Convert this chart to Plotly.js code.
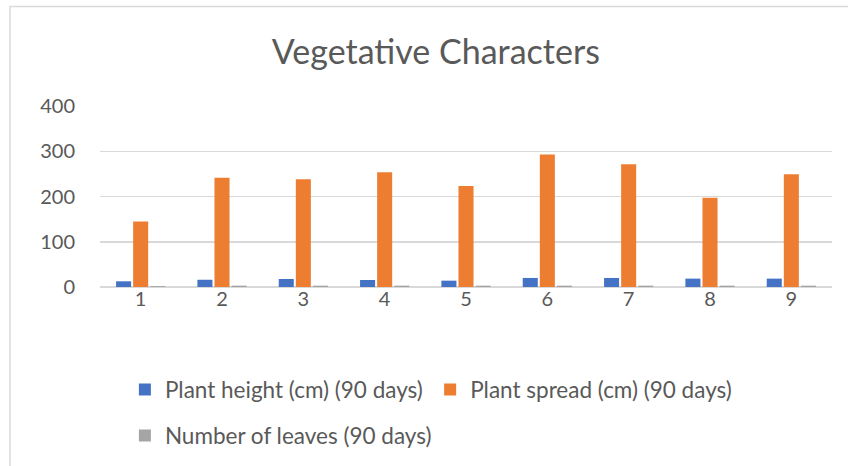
<!DOCTYPE html>
<html>
<head>
<meta charset="utf-8">
<script src="https://cdn.plot.ly/plotly-3.0.1.min.js"></script>
<style>html,body{margin:0;padding:0;background:#fff;}#chart{width:848px;height:466px;}</style>
</head>
<body>
<div id="chart"></div>
<script>
const categories = ['1','2','3','4','5','6','7','8','9'];
const plantHeight = [12.6, 16, 17.7, 15.5, 14, 20, 20, 18.5, 18.5];
const plantSpread = [145, 241.5, 238, 253.5, 223, 293, 271.5, 197.5, 249];
const numLeaves = [2, 3, 3, 3, 3, 3, 3, 3, 3];
const seriesNames = ['Plant height (cm) (90 days)', 'Plant spread (cm) (90 days)', 'Number of leaves (90 days)'];
const yTicks = [0, 100, 200, 300, 400];

const font = 'Lato, "Open Sans", sans-serif';
const txt = '#595959';

const traces = [
  {type:'bar', name:seriesNames[0], x:categories, y:plantHeight, marker:{color:'#4472C4'}, legend:'legend'},
  {type:'bar', name:seriesNames[1], x:categories, y:plantSpread, marker:{color:'#ED7D31'}, legend:'legend2'},
  {type:'bar', name:seriesNames[2], x:categories, y:numLeaves, marker:{color:'#A5A5A5'}, legend:'legend3'}
];

const legendBase = {orientation:'h', xanchor:'left', yanchor:'middle', font:{family:font, size:22.5, color:txt},
  bgcolor:'rgba(0,0,0,0)', itemclick:false};

const layout = {
  width:848, height:466,
  paper_bgcolor:'#fff', plot_bgcolor:'#fff',
  margin:{l:100, r:16, t:106, b:179, autoexpand:false},
  title:{text:'Vegetative Characters', x:0.514, xanchor:'center', y:0.888, yanchor:'middle', font:{family:font, size:34, color:txt}},
  barmode:'group', bargap:0.37, bargroupgap:0.12,
  xaxis:{type:'category', tickfont:{family:font, size:20, color:txt}, showgrid:false, showline:false, ticks:'', ticklabelstandoff:-2},
  yaxis:{range:[0,400], tickvals:yTicks, tickfont:{family:font, size:20, color:txt}, gridcolor:'#d9d9d9', gridwidth:1.5,
    zeroline:true, zerolinecolor:'#d9d9d9', zerolinewidth:1.5, showline:false, ticks:'', ticklabelstandoff:24, fixedrange:true},
  showlegend:true,
  legend:Object.assign({}, legendBase, {x:0.034, y:-0.569}),
  legend2:Object.assign({}, legendBase, {x:0.451, y:-0.569}),
  legend3:Object.assign({}, legendBase, {x:0.034, y:-0.823}),
  shapes:[{type:'rect', xref:'paper', yref:'paper', x0:-0.123, x1:1.1, y0:-1.2, y1:1.55, line:{color:'#d9d9d9', width:1.5}, fillcolor:'rgba(0,0,0,0)', layer:'below'}]
};

Plotly.newPlot('chart', traces, layout, {displayModeBar:false, staticPlot:true});
</script>
</body>
</html>
